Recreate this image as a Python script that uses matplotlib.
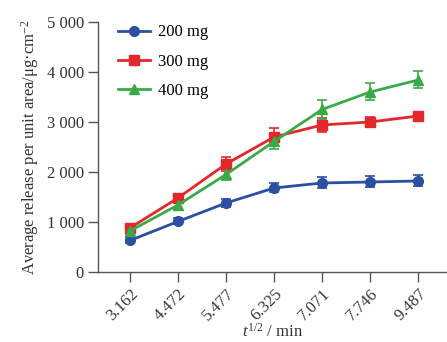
import matplotlib
matplotlib.use("Agg")
import matplotlib.pyplot as plt
from matplotlib.ticker import FuncFormatter

categories = ["3.162", "4.472", "5.477", "6.325", "7.071", "7.746", "9.487"]
s200 = [630, 1010, 1380, 1680, 1780, 1800, 1820]
e200 = [60, 60, 80, 90, 110, 110, 110]
s300 = [880, 1480, 2160, 2700, 2940, 3000, 3120]
e300 = [80, 80, 140, 170, 140, 100, 70]
s400 = [820, 1340, 1950, 2610, 3250, 3600, 3840]
e400 = [60, 80, 110, 150, 190, 170, 170]
labels = ["200 mg", "300 mg", "400 mg"]

plt.rcParams['font.family'] = ['Liberation Serif', 'DejaVu Serif']
plt.rcParams['mathtext.fontset'] = 'custom'
plt.rcParams['mathtext.rm'] = 'Liberation Serif'
plt.rcParams['mathtext.it'] = 'Liberation Serif:italic'

fig = plt.figure(figsize=(4.47, 3.42), dpi=100)
ax = fig.add_axes([0.219, 0.2047, 0.781, 0.731])

x = list(range(len(categories)))
colors = ["#2a4fa3", "#e3272b", "#3aaa48"]
markers = ["o", "s", "^"]
handles = []
for ys, es, c, m, lab in zip([s200, s300, s400], [e200, e300, e400], colors, markers, labels):
    cont = ax.errorbar(x, ys, yerr=es, color=c, marker=m, markersize=7, lw=2,
                       capsize=3.5, elinewidth=1.2, capthick=1.2, label=lab)
    handles.append(cont[0])

ax.set_xlim(-0.667, 6.6)
ax.set_ylim(0, 5000)
ax.set_yticks([0, 1000, 2000, 3000, 4000, 5000])
ax.yaxis.set_major_formatter(FuncFormatter(lambda v, p: f"{int(v):,}".replace(",", " ")))
ax.set_xticks(x)
ax.set_xticklabels(categories, rotation=45, ha="right", rotation_mode="anchor")
for s in ["top", "right"]:
    ax.spines[s].set_visible(False)
for s in ["left", "bottom"]:
    ax.spines[s].set_color("#555555")
    ax.spines[s].set_linewidth(1.0)
ax.tick_params(axis="both", direction="out", length=7, width=1, colors="#555555",
               labelcolor="#333333", labelsize=12, pad=3)
ax.set_ylabel("Average release per unit area/μg·cm$^{-2}$", fontsize=12, color="#333333", labelpad=4)
ax.set_xlabel("$t^{1/2}$ / min", fontsize=12, color="#333333", labelpad=-1)

leg = ax.legend(handles, labels, loc="upper left", bbox_to_anchor=(0.015, 1.05), frameon=False,
                fontsize=12, handlelength=1.9, labelspacing=0.8, handletextpad=0.5)
fig.savefig("out.png", dpi=100)
